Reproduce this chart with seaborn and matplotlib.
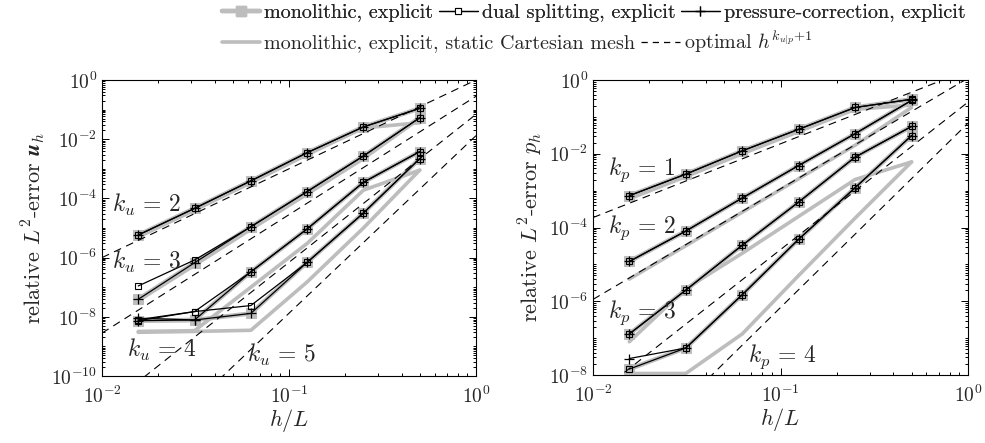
import numpy as np
import pandas as pd
import matplotlib
matplotlib.use("Agg")
import matplotlib.pyplot as plt
from matplotlib.ticker import FixedLocator, LogLocator, LogFormatterSciNotation, NullFormatter
from matplotlib.lines import Line2D
import seaborn as sns

sns.set_style("ticks")
plt.rcParams.update({
    "font.family": "serif",
    "font.serif": ["cmr10"],
    "mathtext.fontset": "cm",
    "axes.formatter.use_mathtext": True,
    "axes.unicode_minus": False,
})

# ---------------- data ----------------
h = [1/64, 1/32, 1/16, 1/8, 1/4, 1/2]

# velocity errors (left)
mono_u = {
    2: [5.8e-6, 4.6e-5, 3.9e-4, 3.5e-3, 2.6e-2, 1.1e-1],
    3: [3.9e-8, 6.7e-7, 1.1e-5, 1.7e-4, 2.7e-3, 5.3e-2],
    4: [7.4e-9, 7.8e-9, 3.3e-7, 9.3e-6, 3.5e-4, 3.8e-3],
    5: [7.4e-9, 7.8e-9, 1.3e-8, 6.9e-7, 3.2e-5, 2.2e-3],
}
dual_u = {
    2: [5.8e-6, 4.6e-5, 3.9e-4, 3.5e-3, 2.6e-2, 1.1e-1],
    3: [1.1e-7, 8.3e-7, 1.1e-5, 1.7e-4, 2.7e-3, 5.3e-2],
    4: [8.0e-9, 1.5e-8, 3.3e-7, 9.3e-6, 3.5e-4, 3.8e-3],
    5: [7.4e-9, 1.5e-8, 2.4e-8, 6.9e-7, 3.2e-5, 2.2e-3],
}
press_u = {
    2: [5.8e-6, 4.6e-5, 3.9e-4, 3.5e-3, 2.6e-2, 1.1e-1],
    3: [3.9e-8, 6.7e-7, 1.1e-5, 1.7e-4, 2.7e-3, 5.3e-2],
    4: [9.0e-9, 7.8e-9, 3.3e-7, 9.3e-6, 3.5e-4, 3.8e-3],
    5: [7.4e-9, 7.8e-9, 1.3e-8, 6.9e-7, 3.2e-5, 2.2e-3],
}
static_u = {
    2: [5.0e-6, 4.0e-5, 3.4e-4, 3.0e-3, 2.4e-2, 3.6e-2],
    3: [3.5e-8, 5.5e-7, 9.0e-6, 1.4e-4, 2.2e-3, 5.0e-2],
    4: [3.2e-9, 3.4e-9, 1.0e-7, 3.0e-6, 1.9e-4, 9.0e-4],
    5: [3.0e-9, 3.2e-9, 3.5e-9, 1.5e-7, 1.0e-5, 9.0e-4],
}

# pressure errors (right)
mono_p = {
    1: [7.3e-4, 2.8e-3, 1.2e-2, 4.6e-2, 1.8e-1, 3.0e-1],
    2: [1.2e-5, 8.0e-5, 6.3e-4, 4.8e-3, 3.5e-2, 2.8e-1],
    3: [1.3e-7, 2.0e-6, 3.3e-5, 4.9e-4, 8.1e-3, 5.5e-2],
    4: [1.45e-8, 5.4e-8, 1.5e-6, 4.8e-5, 1.2e-3, 3.1e-2],
}
dual_p = {
    1: [7.3e-4, 2.8e-3, 1.2e-2, 4.6e-2, 1.8e-1, 3.0e-1],
    2: [1.2e-5, 8.0e-5, 6.3e-4, 4.8e-3, 3.5e-2, 2.8e-1],
    3: [1.3e-7, 2.0e-6, 3.3e-5, 4.9e-4, 8.1e-3, 5.5e-2],
    4: [1.45e-8, 5.4e-8, 1.5e-6, 4.8e-5, 1.2e-3, 3.1e-2],
}
press_p = {
    1: [7.3e-4, 2.8e-3, 1.2e-2, 4.6e-2, 1.8e-1, 3.0e-1],
    2: [1.2e-5, 8.0e-5, 6.3e-4, 4.8e-3, 3.5e-2, 2.8e-1],
    3: [1.3e-7, 2.0e-6, 3.3e-5, 4.9e-4, 8.1e-3, 5.5e-2],
    4: [2.8e-8, 5.4e-8, 1.5e-6, 4.8e-5, 1.2e-3, 3.1e-2],
}
static_p = {
    1: [6.0e-4, 2.4e-3, 1.0e-2, 4.0e-2, 1.6e-1, 2.1e-1],
    2: [4.0e-6, 3.2e-5, 2.6e-4, 2.1e-3, 1.7e-2, 1.8e-1],
    3: [8.0e-8, 2.2e-6, 2.0e-5, 2.0e-4, 2.0e-3, 6.0e-3],
    4: [1.1e-8, 1.1e-8, 1.3e-7, 5.0e-6, 1.8e-4, 6.0e-3],
}

# optimal-rate reference lines: y = 10**C * h**(k+1)
opt_h = [1e-2, 1.0]
opt_u_C = {2: 0.0, 3: -0.55, 4: -1.16, 5: -1.88}
opt_p_C = {1: 0.27, 2: 0.05, 3: -0.6, 4: -1.17}

labels_u = {2: (0.027, 0.578), 3: (0.027, 0.385), 4: (0.067, 0.088), 5: (0.388, 0.071)}
labels_p = {1: (0.04, 0.695), 2: (0.04, 0.498), 3: (0.04, 0.21), 4: (0.413, 0.061)}

GRAY = "#bdbdbd"
DASH = (0, (7, 5))

# ---------------- figure ----------------
fig = plt.figure(figsize=(9.85, 4.43), dpi=100)
axL = fig.add_axes([102/985, 67/443, 374/985, 296/443])
axR = fig.add_axes([593/985, 68/443, 375/985, 295/443])


def draw(ax, mono, dual, press, static, optC, sub, lab_pos, ylim, ylab):
    ax.set_xscale("log")
    ax.set_yscale("log")
    for k in static:
        sns.lineplot(x=h, y=static[k], ax=ax, color=GRAY, lw=2.6,
                     estimator=None, sort=False, legend=False, zorder=1)
    for k in mono:
        sns.lineplot(x=h, y=mono[k], ax=ax, color=GRAY, lw=3.2, marker="s",
                     markersize=7.5, markerfacecolor=GRAY, markeredgecolor=GRAY,
                     estimator=None, sort=False, legend=False, zorder=2)
    for k in optC:
        yv = [10**optC[k] * x**(k + 1) for x in opt_h]
        sns.lineplot(x=opt_h, y=yv, ax=ax, color="black", lw=0.8,
                     linestyle=DASH, estimator=None, sort=False,
                     legend=False, zorder=3)
    for k in dual:
        sns.lineplot(x=h, y=dual[k], ax=ax, color="black", lw=0.9, marker="s",
                     markersize=4.6, markerfacecolor="none", markeredgecolor="black",
                     markeredgewidth=0.8, estimator=None, sort=False,
                     legend=False, zorder=4)
    for k in press:
        sns.lineplot(x=h, y=press[k], ax=ax, color="black", lw=0.9, marker="+",
                     markersize=7, markeredgecolor="black", markeredgewidth=0.9,
                     estimator=None, sort=False, legend=False, zorder=5)
    for k, (tx, ty) in lab_pos.items():
        ax.text(tx, ty, f"$k_{sub}\\,=\\,{k}$", transform=ax.transAxes,
                ha="left", va="center", fontsize=17, zorder=6)
    ax.set_xlim(1e-2, 1e0)
    ax.set_ylim(*ylim)
    ax.xaxis.set_major_locator(FixedLocator([1e-2, 1e-1, 1e0]))
    ax.xaxis.set_major_formatter(LogFormatterSciNotation())
    ax.xaxis.set_minor_locator(LogLocator(base=10, subs=np.arange(2, 10), numticks=50))
    ax.xaxis.set_minor_formatter(NullFormatter())
    lo = int(np.log10(ylim[0]))
    ax.yaxis.set_major_locator(FixedLocator(10.0**np.arange(lo, 1, 2)))
    ax.yaxis.set_major_formatter(LogFormatterSciNotation())
    ax.yaxis.set_minor_locator(LogLocator(base=10, subs=np.arange(1, 10), numticks=100))
    ax.yaxis.set_minor_formatter(NullFormatter())
    ax.tick_params(which="both", direction="in", top=True, right=True,
                   labelsize=14, width=0.7, color="black")
    ax.tick_params(which="major", length=5)
    ax.tick_params(which="minor", length=2.5)
    ax.tick_params(axis="x", which="major", pad=7)
    for s in ax.spines.values():
        s.set_linewidth(0.8)
        s.set_color("black")
    ax.set_xlabel("$h/L$", fontsize=16, labelpad=0)
    ax.set_ylabel(ylab, fontsize=16, labelpad=3)
    ax.grid(False)


draw(axL, mono_u, dual_u, press_u, static_u, opt_u_C, "u", labels_u,
     (1e-10, 1e0), r"relative $L^2$-error $\boldsymbol{u}_h$")
draw(axR, mono_p, dual_p, press_p, static_p, opt_p_C, "p", labels_p,
     (1e-8, 1e0), r"relative $L^2$-error $p_h$")

# ---------------- legend ----------------
h_mono = Line2D([], [], color=GRAY, lw=3.2, marker="s", markersize=7.5,
                markerfacecolor=GRAY, markeredgecolor=GRAY)
h_dual = Line2D([], [], color="black", lw=0.9, marker="s", markersize=4.6,
                markerfacecolor="white", markeredgecolor="black", markeredgewidth=0.8)
h_press = Line2D([], [], color="black", lw=0.9, marker="+", markersize=7,
                 markeredgewidth=0.9)
h_static = Line2D([], [], color=GRAY, lw=2.6)
h_opt = Line2D([], [], color="black", lw=0.9, linestyle=(0, (5, 4)))

leg_kw = dict(frameon=False, fontsize=14.5, handlelength=1.9, handletextpad=0.2,
              columnspacing=0.3, borderpad=0.0, borderaxespad=0.0, loc="center left")
leg1 = fig.legend([h_mono, h_dual, h_press],
                  ["monolithic, explicit", "dual splitting, explicit",
                   "pressure-correction, explicit"],
                  ncol=3, bbox_to_anchor=(222/985, 1 - 13/443), **leg_kw)
fig.add_artist(leg1)
fig.legend([h_static, h_opt],
           ["monolithic, explicit, static Cartesian mesh",
            r"optimal $h^{k_{u|p}{+}1}$"],
           ncol=2, bbox_to_anchor=(222/985, 1 - 42/443), **leg_kw)

fig.savefig("out.png", dpi=100)
